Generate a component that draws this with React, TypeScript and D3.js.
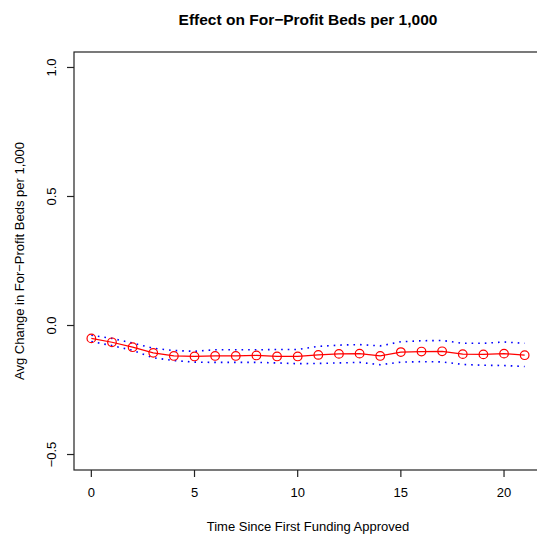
import React from "react";
import * as d3 from "d3";

// Years since first funding approval
const periods: number[] = d3.range(0, 22);

// Average change in for-profit beds per 1,000 (point estimates)
const estimate: number[] = [
  -0.05, -0.065, -0.084, -0.106, -0.118, -0.12, -0.118, -0.118, -0.116, -0.12,
  -0.12, -0.114, -0.11, -0.109, -0.118, -0.103, -0.101, -0.1, -0.111, -0.112,
  -0.109, -0.115,
];

// Upper and lower confidence bounds
const upperBound: number[] = [
  -0.038, -0.05, -0.068, -0.088, -0.097, -0.1, -0.094, -0.094, -0.094, -0.093,
  -0.093, -0.081, -0.076, -0.074, -0.079, -0.063, -0.059, -0.058, -0.069, -0.069,
  -0.064, -0.069,
];
const lowerBound: number[] = [
  -0.062, -0.078, -0.096, -0.125, -0.136, -0.142, -0.143, -0.143, -0.143, -0.145,
  -0.148, -0.147, -0.145, -0.143, -0.152, -0.142, -0.14, -0.141, -0.151, -0.154,
  -0.155, -0.159,
];

const xTicks: number[] = [0, 5, 10, 15, 20];
const yTicks: number[] = [-0.5, 0, 0.5, 1.0];

const W = 537;
const H = 537;
const box = { left: 74, top: 52, right: 542, bottom: 470 };
const font = "'Liberation Sans', Arial, Helvetica, sans-serif";

export default function App() {
  const x = d3.scaleLinear().domain([-0.84, 21.84]).range([box.left, box.right]);
  const y = d3.scaleLinear().domain([-0.56, 1.06]).range([box.bottom, box.top]);

  const line = (vals: number[]) =>
    d3
      .line<number>()
      .x((_, i) => x(periods[i]))
      .y((v) => y(v))(vals) || "";

  const midX = (box.left + box.right) / 2;
  const midY = (box.top + box.bottom) / 2;

  return (
    <svg
      width={W}
      height={H}
      style={{ position: "absolute", left: 0, top: 0, background: "#fff" }}
      fontFamily={font}
    >
      <rect x={0} y={0} width={W} height={H} fill="#fff" />
      <text x={midX} y={25} textAnchor="middle" fontSize={15.5} fontWeight="bold">
        Effect on For−Profit Beds per 1,000
      </text>

      {/* confidence bounds */}
      <path d={line(upperBound)} fill="none" stroke="#0000ff" strokeWidth={1.6} strokeDasharray="1.6 5" />
      <path d={line(lowerBound)} fill="none" stroke="#0000ff" strokeWidth={1.6} strokeDasharray="1.6 5" />

      {/* point estimates */}
      <path d={line(estimate)} fill="none" stroke="#ff0000" strokeWidth={1.2} />
      {estimate.map((v, i) => (
        <circle key={i} cx={x(periods[i])} cy={y(v)} r={4.3} fill="none" stroke="#ff0000" strokeWidth={1.2} />
      ))}

      {/* plot frame */}
      <rect
        x={box.left}
        y={box.top}
        width={box.right - box.left}
        height={box.bottom - box.top}
        fill="none"
        stroke="#222"
        strokeWidth={1.2}
      />

      {/* x axis */}
      {xTicks.map((t) => (
        <g key={t}>
          <line x1={x(t)} x2={x(t)} y1={box.bottom} y2={box.bottom + 7} stroke="#222" strokeWidth={1.2} />
          <text x={x(t)} y={497} textAnchor="middle" fontSize={13}>
            {t}
          </text>
        </g>
      ))}
      <text x={midX} y={531} textAnchor="middle" fontSize={13}>
        Time Since First Funding Approved
      </text>

      {/* y axis */}
      {yTicks.map((t) => (
        <g key={t}>
          <line x1={box.left} x2={box.left - 7} y1={y(t)} y2={y(t)} stroke="#222" strokeWidth={1.2} />
          <text
            transform={`translate(56,${y(t)}) rotate(-90)`}
            textAnchor="middle"
            fontSize={13}
          >
            {t === 0 ? "0.0" : t < 0 ? "−" + Math.abs(t).toFixed(1) : t.toFixed(1)}
          </text>
        </g>
      ))}
      <text transform={`translate(24,${midY}) rotate(-90)`} textAnchor="middle" fontSize={13}>
        Avg Change in For−Profit Beds per 1,000
      </text>
    </svg>
  );
}
